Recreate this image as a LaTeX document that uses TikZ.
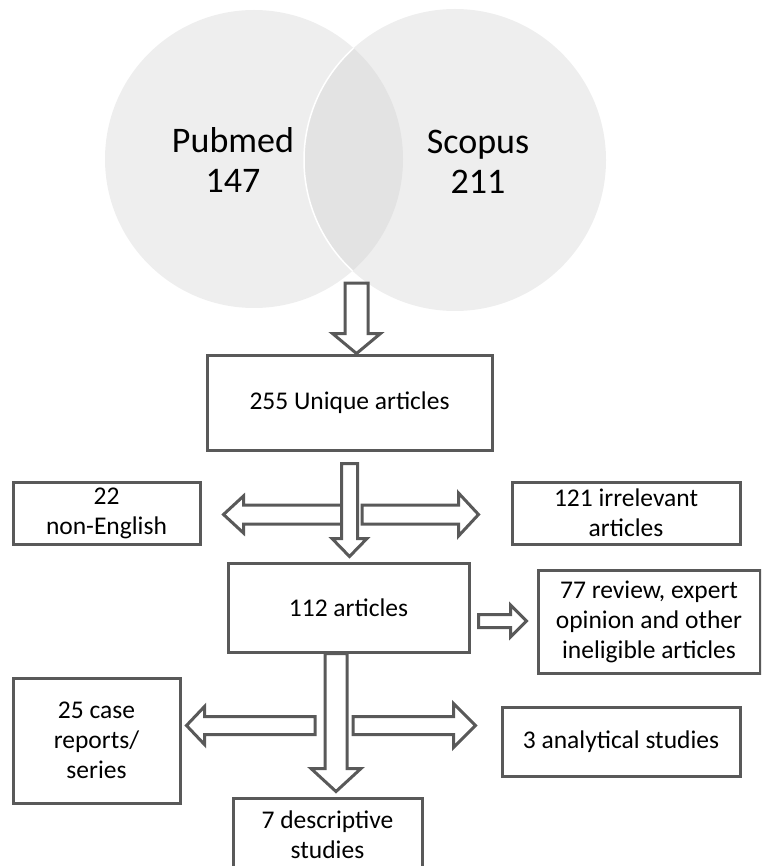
\documentclass[tikz,border=0pt]{standalone}
\usepackage{fontspec}
\setmainfont{Carlito}
\usetikzlibrary{calc}
\definecolor{linegray}{HTML}{595959}
\definecolor{vennfill}{HTML}{EEEEEE}
\definecolor{vennmid}{HTML}{E3E3E3}

\begin{document}
\begin{tikzpicture}[x=1pt,y=-1pt]
    \newcommand{\rpub}{149pt} % radius of the Pubmed circle
    \newcommand{\rsco}{151pt} % radius of the Scopus circle

    % hollow block arrows: from, to, shaft width, head width, head length
    \newcommand{\blockv}[5]{\draw[hollow] let \p1=(#1), \p2=(#2) in
        ({\x1-#3/2},\y1) -- ({\x1-#3/2},{\y2+#5}) -- ({\x1-#4/2},{\y2+#5}) -- (\x1,\y2)
        -- ({\x1+#4/2},{\y2+#5}) -- ({\x1+#3/2},{\y2+#5}) -- ({\x1+#3/2},\y1) -- cycle;}
    \newcommand{\blockh}[5]{\draw[hollow] let \p1=(#1), \p2=(#2), \n1={sign(\x2-\x1)} in
        (\x1,{\y1+#3/2}) -- ({\x2-(\n1)*#5},{\y1+#3/2}) -- ({\x2-(\n1)*#5},{\y1+#4/2}) -- (\x2,\y1)
        -- ({\x2-(\n1)*#5},{\y1-#4/2}) -- ({\x2-(\n1)*#5},{\y1-#3/2}) -- (\x1,{\y1-#3/2}) -- cycle;}

    % set the styles of the boxes and arrows
    \tikzset{
        box/.style={
            draw=linegray,
            line width=3pt,
            align=center,
            inner sep=0pt,
            font=\fontsize{25.5}{30}\selectfont
            },
        venntext/.style={
            align=center,
            font=\fontsize{36}{40}\selectfont
            },
        hollow/.style={
            draw=linegray,
            fill=white,
            line width=3pt,
            line join=miter
            }
    }

    \useasboundingbox (0,0) rectangle (761,866);
    \clip (0,0) rectangle (761,866);

    % circles
    \fill[vennfill] (254,159) circle (\rpub);
    \fill[vennfill] (455,160) circle (\rsco);
    \begin{scope}
        \clip (254,159) circle (\rpub);
        \fill[vennmid] (455,160) circle (\rsco);
        \draw[white, line width=1.5pt] (455,160) circle (\rsco);
    \end{scope}
    \node[venntext] (pubmed) at (233,160) {Pubmed\\147};
    \node[venntext] (scopus) at (478,162) {Scopus\\211};
    \coordinate (v0) at (356.5,283);

    % boxes
    \node[box, minimum width=285pt, minimum height=95pt] (unique) at (349.5,402.5) {255 Unique articles};
    \node[box, minimum width=187pt, minimum height=62pt] (noneng) at (106.5,513) {22\\non-English};
    \node[box, minimum width=228pt, minimum height=62pt] (irrel) at (626,513) {121 irrelevant\\articles};
    \node[box, minimum width=241pt, minimum height=89pt] (arts) at (348.5,607.5) {112 articles};
    \node[box, minimum width=222pt, minimum height=103pt] (review) at (649,621.5) {77 review, expert\\opinion and other\\ineligible articles};
    \node[box, minimum width=167pt, minimum height=125pt] (cases) at (96.5,740.5) {25 case\\reports/\\series};
    \node[box, minimum width=238pt, minimum height=69pt] (analyt) at (621,741.5) {3 analytical studies};
    \node[box, minimum width=189pt, minimum height=74pt] (descr) at (327.5,835) {7 descriptive\\studies};

    % arrows
    \blockv{v0}{v0 |- unique.north}{23pt}{48pt}{20pt}
    \blockh{$(unique.south)+(-6,63)$}{$(noneng.east)+(22,0)$}{19pt}{37pt}{20pt}
    \blockh{$(unique.south)+(12.5,63)$}{$(irrel.west)+(-32,0)$}{19pt}{43pt}{20pt}
    \blockv{$(unique.south)+(0,12)$}{$(arts.north)+(0,-5)$}{16pt}{35pt}{18pt}
    \blockh{$(arts.east)+(8,13.5)$}{$(review.west)+(-10,0)$}{13pt}{32pt}{16pt}
    \blockh{$(arts.south)+(-33.5,72)$}{$(cases.east)+(5,0)$}{18pt}{38pt}{18pt}
    \blockh{$(arts.south)+(4.5,72)$}{$(analyt.west)+(-25,0)$}{18pt}{44pt}{22pt}
    \blockv{$(arts.south)+(-12.5,0)$}{$(descr.north)+(0,-5)$}{22pt}{50pt}{23pt}

\end{tikzpicture}
\end{document}
